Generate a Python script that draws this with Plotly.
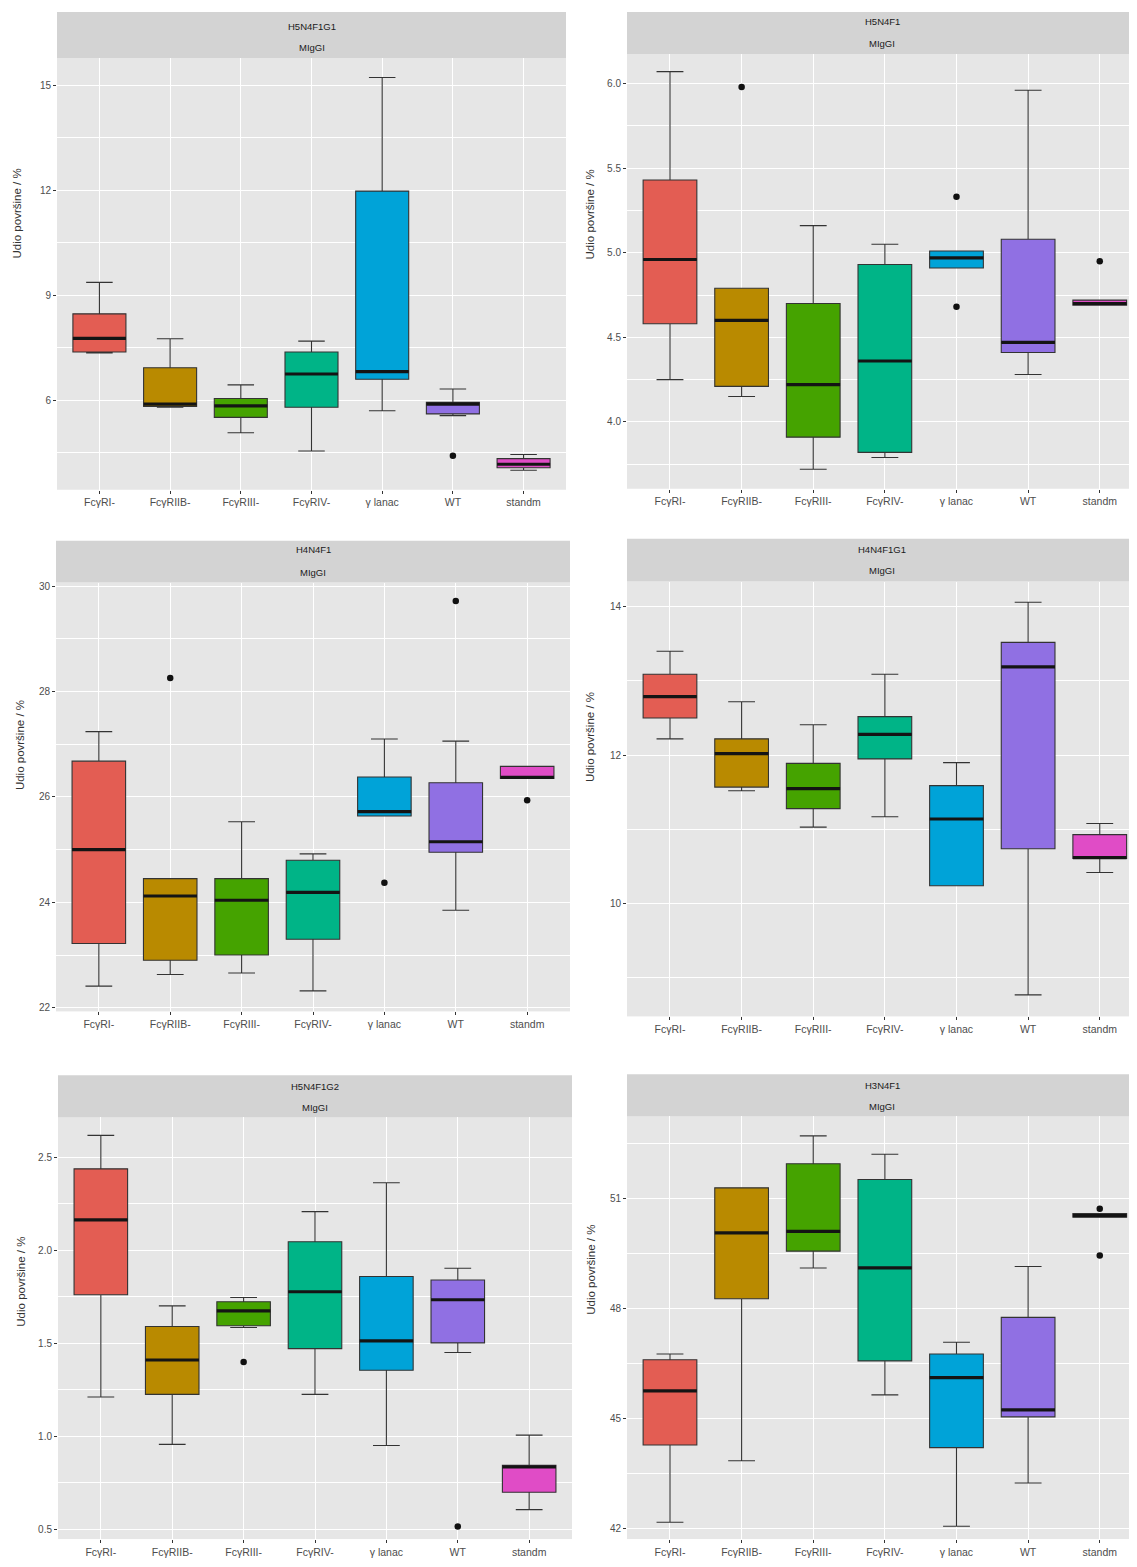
import plotly.graph_objects as go

# ---------------- data ----------------
categories = ["FcγRI-", "FcγRIIB-", "FcγRIII-", "FcγRIV-", "γ lanac", "WT", "standm"]
facet_labels = ["H5N4F1G1", "H5N4F1", "H4N4F1", "H4N4F1G1", "H5N4F1G2", "H3N4F1"]
facet_sub = "MIgGI"
y_title = "Udio površine / %"
colors = ["#E35D53", "#B98A00", "#45A300", "#00B487", "#00A3D8", "#9070E3", "#E04CC6"]

# H5N4F1G1
p1_lower = [7.35, 5.80, 5.07, 4.55, 5.70, 5.56, 4.00]
p1_q1 = [7.38, 5.82, 5.51, 5.80, 6.60, 5.61, 4.07]
p1_median = [7.77, 5.89, 5.84, 6.75, 6.82, 5.89, 4.17]
p1_q3 = [8.47, 6.93, 6.05, 7.38, 11.98, 5.94, 4.33]
p1_upper = [9.37, 7.76, 6.44, 7.69, 15.23, 6.32, 4.45]
p1_out_cat = ["WT"]
p1_out_val = [4.41]

# H5N4F1
p2_lower = [4.25, 4.15, 3.72, 3.79, 4.91, 4.28, 4.69]
p2_q1 = [4.58, 4.21, 3.91, 3.82, 4.91, 4.41, 4.69]
p2_median = [4.96, 4.60, 4.22, 4.36, 4.97, 4.47, 4.70]
p2_q3 = [5.43, 4.79, 4.70, 4.93, 5.01, 5.08, 4.72]
p2_upper = [6.07, 4.79, 5.16, 5.05, 5.01, 5.96, 4.72]
p2_out_cat = ["FcγRIIB-", "γ lanac", "γ lanac", "standm"]
p2_out_val = [5.98, 5.33, 4.68, 4.95]

# H4N4F1
p3_lower = [22.41, 22.63, 22.66, 22.32, 25.64, 23.85, 26.35]
p3_q1 = [23.22, 22.90, 23.00, 23.30, 25.64, 24.95, 26.35]
p3_median = [25.00, 24.12, 24.04, 24.19, 25.72, 25.15, 26.37]
p3_q3 = [26.68, 24.45, 24.45, 24.80, 26.38, 26.27, 26.58]
p3_upper = [27.24, 24.45, 25.53, 24.92, 27.10, 27.06, 26.58]
p3_out_cat = ["FcγRIIB-", "γ lanac", "WT", "standm"]
p3_out_val = [28.26, 24.37, 29.72, 25.94]

# H4N4F1G1
p4_lower = [12.22, 11.52, 11.03, 11.17, 10.24, 8.77, 10.42]
p4_q1 = [12.50, 11.57, 11.28, 11.95, 10.24, 10.74, 10.61]
p4_median = [12.79, 12.02, 11.55, 12.28, 11.14, 13.19, 10.62]
p4_q3 = [13.09, 12.22, 11.89, 12.52, 11.59, 13.52, 10.93]
p4_upper = [13.40, 12.72, 12.41, 13.09, 11.90, 14.06, 11.08]
p4_out_cat = []
p4_out_val = []

# H5N4F1G2
p5_lower = [1.21, 0.955, 1.584, 1.224, 0.949, 1.449, 0.604]
p5_q1 = [1.76, 1.224, 1.593, 1.47, 1.354, 1.501, 0.698]
p5_median = [2.162, 1.409, 1.673, 1.776, 1.512, 1.733, 0.834]
p5_q3 = [2.437, 1.589, 1.722, 2.045, 1.858, 1.839, 0.843]
p5_upper = [2.617, 1.70, 1.745, 2.207, 2.362, 1.902, 1.005]
p5_out_cat = ["FcγRIII-", "WT"]
p5_out_val = [1.398, 0.514]

# H3N4F1
p6_lower = [42.16, 43.84, 49.11, 45.64, 42.05, 43.23, 50.50]
p6_q1 = [44.27, 48.27, 49.57, 46.57, 44.20, 45.04, 50.50]
p6_median = [45.75, 50.07, 50.11, 49.11, 46.11, 45.23, 50.54]
p6_q3 = [46.60, 51.30, 51.96, 51.53, 46.76, 47.76, 50.60]
p6_upper = [46.76, 51.30, 52.72, 52.22, 47.08, 49.15, 50.60]
p6_out_cat = ["standm", "standm"]
p6_out_val = [50.73, 49.45]

# y-axis ticks per facet
p1_ticks = [6, 9, 12, 15]
p2_ticks = [4.0, 4.5, 5.0, 5.5, 6.0]
p3_ticks = [22, 24, 26, 28, 30]
p4_ticks = [10, 12, 14]
p5_ticks = [0.5, 1.0, 1.5, 2.0, 2.5]
p6_ticks = [42, 45, 48, 51]

# ---------------- layout geometry ----------------
# The page body has an 8px margin, so the figure is a bit smaller and
# reference-pixel positions are shifted into figure space.
PAGE_W, PAGE_H = 1137, 1567
W, H = PAGE_W - 8, PAGE_H - 16


def fx(px):
    return (px - 8) / W


def fy(py):
    return 1 - (py - 8) / H


panels = [
    dict(data=(p1_lower, p1_q1, p1_median, p1_q3, p1_upper, p1_out_cat, p1_out_val),
         ticks=p1_ticks, fmt="{:g}", x=(57, 566), plot=(56, 489), strip=(10, 56),
         l1=25, l2=46, yrange=(3.44, 15.79), xright=6.6, ttl=(17, 212)),
    dict(data=(p2_lower, p2_q1, p2_median, p2_q3, p2_upper, p2_out_cat, p2_out_val),
         ticks=p2_ticks, fmt="{:.1f}", x=(627, 1137), plot=(52, 488), strip=(10, 52),
         l1=20, l2=42, yrange=(3.605, 6.175), xright=6.52, ttl=(590, 213)),
    dict(data=(p3_lower, p3_q1, p3_median, p3_q3, p3_upper, p3_out_cat, p3_out_val),
         ticks=p3_ticks, fmt="{:g}", x=(56, 570), plot=(582, 1012), strip=(540, 582),
         l1=549, l2=572, yrange=(21.93, 30.07), xright=6.6, ttl=(20, 745)),
    dict(data=(p4_lower, p4_q1, p4_median, p4_q3, p4_upper, p4_out_cat, p4_out_val),
         ticks=p4_ticks, fmt="{:g}", x=(627, 1137), plot=(581, 1017), strip=(538, 581),
         l1=549, l2=570, yrange=(8.48, 14.34), xright=6.52, ttl=(590, 737)),
    dict(data=(p5_lower, p5_q1, p5_median, p5_q3, p5_upper, p5_out_cat, p5_out_val),
         ticks=p5_ticks, fmt="{:.1f}", x=(58, 572), plot=(1118, 1541), strip=(1076, 1118),
         l1=1087, l2=1108, yrange=(0.446, 2.715), xright=6.6, ttl=(21, 1283)),
    dict(data=(p6_lower, p6_q1, p6_median, p6_q3, p6_upper, p6_out_cat, p6_out_val),
         ticks=p6_ticks, fmt="{:g}", x=(627, 1137), plot=(1117, 1541), strip=(1075, 1117),
         l1=1086, l2=1107, yrange=(41.70, 53.26), xright=6.52, ttl=(591, 1271)),
]

FONT = "Liberation Sans, Arial, sans-serif"
BOX_W = 0.75

fig = go.Figure()
shapes = []
annotations = []
layout_axes = {}

for k, (p, facet) in enumerate(zip(panels, facet_labels), start=1):
    lower, q1, med, q3, upper, out_cat, out_val = p["data"]
    xa = "x" if k == 1 else f"x{k}"
    ya = "y" if k == 1 else f"y{k}"
    xkey = "xaxis" if k == 1 else f"xaxis{k}"
    ykey = "yaxis" if k == 1 else f"yaxis{k}"

    for i, cat in enumerate(categories):
        fig.add_trace(go.Box(
            x=[i], lowerfence=[lower[i]], q1=[q1[i]], median=[med[i]],
            q3=[q3[i]], upperfence=[upper[i]],
            width=BOX_W, fillcolor=colors[i],
            line=dict(color="#333333", width=1.1),
            boxpoints=False, showlegend=False, hoverinfo="skip",
            xaxis=xa, yaxis=ya, name=cat,
        ))

    # thick median bars
    mx, my = [], []
    for i, m in enumerate(med):
        mx += [i - BOX_W / 2, i + BOX_W / 2, None]
        my += [m, m, None]
    fig.add_trace(go.Scatter(x=mx, y=my, mode="lines",
                             line=dict(color="#141414", width=3.2),
                             showlegend=False, hoverinfo="skip",
                             xaxis=xa, yaxis=ya))

    # outliers
    if out_val:
        fig.add_trace(go.Scatter(
            x=[categories.index(c) for c in out_cat], y=out_val, mode="markers",
            marker=dict(color="#111111", size=6.5),
            showlegend=False, hoverinfo="skip", xaxis=xa, yaxis=ya))

    x0, x1 = p["x"]
    pt, pb = p["plot"]
    st, sb = p["strip"]
    tv = p["ticks"]
    step = tv[1] - tv[0]

    layout_axes[xkey] = dict(
        domain=[max(0, fx(x0)), min(1, fx(x1))], anchor=ya, range=[-0.6, p["xright"]],
        tickmode="array", tickvals=list(range(len(categories))), ticktext=categories,
        showgrid=True, gridcolor="white", gridwidth=1.3, zeroline=False,
        ticks="outside", ticklen=3, tickcolor="#333333", tickwidth=1,
        showline=False, tickfont=dict(family=FONT, size=10.5, color="#4D4D4D"),
    )
    layout_axes[ykey] = dict(
        domain=[max(0, fy(pb)), min(1, fy(pt))], anchor=xa, range=list(p["yrange"]),
        tickmode="array", tickvals=tv, ticktext=[p["fmt"].format(v) for v in tv],
        showgrid=True, gridcolor="white", gridwidth=1.3, zeroline=False,
        ticks="outside", ticklen=3, tickcolor="#333333", tickwidth=1,
        showline=False, tickfont=dict(family=FONT, size=10, color="#4D4D4D"),
        minor=dict(tickmode="linear", tick0=tv[0] - step / 2, dtick=step,
                   showgrid=True, gridcolor="white", gridwidth=0.6, ticks=""),
    )

    # strip background and texts
    shapes.append(dict(type="rect", xref="paper", yref="paper",
                       x0=max(0, fx(x0)), x1=min(1, fx(x1)),
                       y0=fy(sb), y1=min(1, fy(st)),
                       fillcolor="#D3D3D3", line=dict(width=0), layer="below"))
    xc = fx((x0 + x1) / 2)
    annotations.append(dict(text=facet, x=xc, y=fy(p["l1"]), xref="paper", yref="paper",
                            showarrow=False, xanchor="center", yanchor="middle",
                            font=dict(family=FONT, size=9.5, color="#1A1A1A")))
    annotations.append(dict(text=facet_sub, x=xc, y=fy(p["l2"]), xref="paper", yref="paper",
                            showarrow=False, xanchor="center", yanchor="middle",
                            font=dict(family=FONT, size=9.5, color="#1A1A1A")))
    tx, ty = p["ttl"]
    annotations.append(dict(text=y_title, x=fx(tx), y=fy(ty), xref="paper", yref="paper",
                            showarrow=False, textangle=-90, xanchor="center", yanchor="middle",
                            font=dict(family=FONT, size=11.5, color="#333333")))

fig.update_layout(
    width=W, height=H, margin=dict(l=0, r=0, t=0, b=0),
    paper_bgcolor="white", plot_bgcolor="#E6E6E6",
    shapes=shapes, annotations=annotations, showlegend=False,
    font=dict(family=FONT),
    **layout_axes,
)

fig.write_html("out.html")
